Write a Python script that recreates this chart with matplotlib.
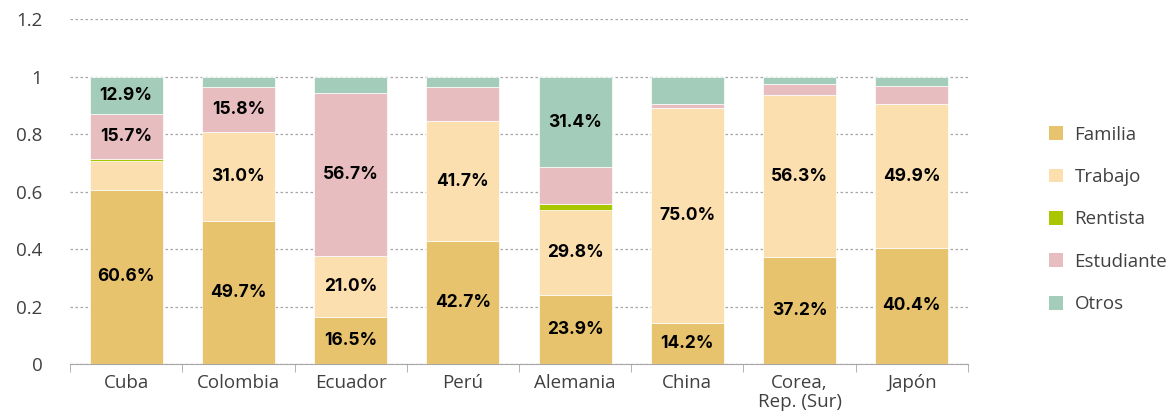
import matplotlib
matplotlib.use("Agg")
import matplotlib.pyplot as plt
import numpy as np
from matplotlib.patches import Patch
from matplotlib.ticker import FuncFormatter, FixedLocator

plt.rcParams["font.family"] = ["Open Sans", "DejaVu Sans"]

paises = ["Cuba", "Colombia", "Ecuador", "Perú", "Alemania", "China",
          "Corea,\nRep. (Sur)", "Japón"]
familia    = [0.606, 0.497, 0.165, 0.427, 0.239, 0.142, 0.372, 0.404]
trabajo    = [0.100, 0.310, 0.210, 0.417, 0.298, 0.750, 0.563, 0.499]
rentista   = [0.006, 0.000, 0.000, 0.000, 0.021, 0.000, 0.000, 0.002]
estudiante = [0.157, 0.158, 0.567, 0.118, 0.126, 0.011, 0.040, 0.061]
otros      = [0.129, 0.035, 0.058, 0.038, 0.314, 0.097, 0.025, 0.034]

series = [("Familia", familia, "#E8C36E"),
          ("Trabajo", trabajo, "#FCDFAF"),
          ("Rentista", rentista, "#A9C600"),
          ("Estudiante", estudiante, "#E8BDBF"),
          ("Otros", otros, "#A4CCBA")]

TEXT = "#404040"
GRID = "#A6A6A6"

fig = plt.figure(figsize=(11.73, 4.18), dpi=100)
ax = fig.add_axes([0.0597, 0.129, 0.7655, 0.8255])

x = np.arange(len(paises))
bottom = np.zeros(len(paises))
for name, vals, color in series:
    vals = np.array(vals)
    ax.bar(x, vals, bottom=bottom, width=0.65, color=color, label=name,
           edgecolor="white", linewidth=0.5, zorder=3)
    for xi, b, v in zip(x, bottom, vals):
        if v >= 0.129:
            ax.text(xi, b + v / 2, f"{v*100:.1f}%", ha="center", va="center",
                    fontsize=12.5, fontweight="bold", color="black", zorder=4,
                    family=["Inter", "DejaVu Sans"])
    bottom += vals

ax.set_xlim(-0.5, len(paises) - 0.5)
ax.set_ylim(0, 1.2)
ax.set_yticks(np.arange(0, 1.21, 0.2))
ax.yaxis.set_major_formatter(FuncFormatter(lambda v, _: f"{v:g}"))
ax.yaxis.grid(True, color=GRID, linestyle=(0, (2, 2)), linewidth=0.9)
ax.set_axisbelow(True)

ax.set_xticks(x)
ax.set_xticklabels(paises, linespacing=1.05)
ax.xaxis.set_minor_locator(FixedLocator(np.arange(-0.5, len(paises), 1.0)))
ax.tick_params(axis="x", which="major", length=0, pad=7, labelsize=13.5, colors=TEXT)
ax.tick_params(axis="x", which="minor", length=6, color=GRID)
ax.tick_params(axis="y", length=0, pad=20, labelsize=13.5, colors=TEXT)

for s in ["top", "right", "left"]:
    ax.spines[s].set_visible(False)
ax.spines["bottom"].set_color(GRID)

handles = [Patch(facecolor=c, edgecolor="none", label=n) for n, _, c in series]
fig.legend(handles=handles, loc="center left", bbox_to_anchor=(0.880, 0.475),
           frameon=False, fontsize=13.5, labelcolor=TEXT, handlelength=0.75,
           handleheight=0.75, handletextpad=0.6, labelspacing=1.3)

fig.savefig("out.png", dpi=100)
